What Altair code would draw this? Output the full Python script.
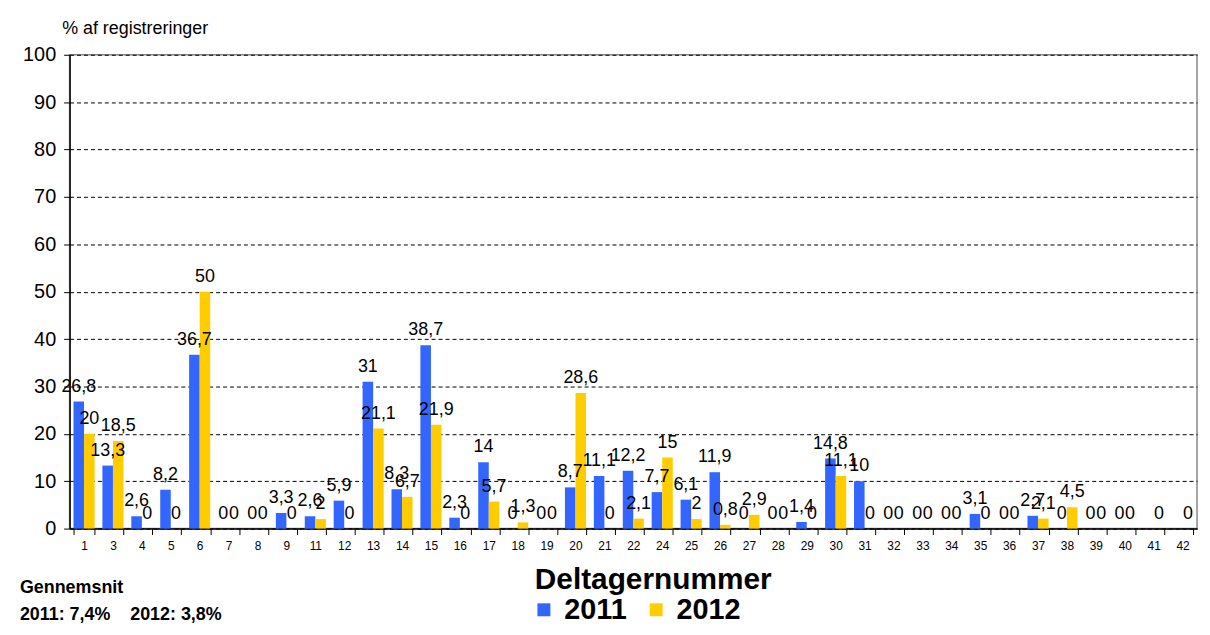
import altair as alt
import pandas as pd

CATS = ["1", "3", "4", "5", "6", "7", "8", "9", "11", "12", "13", "14", "15", "16",
        "17", "18", "19", "20", "21", "22", "24", "25", "26", "27", "28", "29", "30",
        "31", "32", "33", "34", "35", "36", "37", "38", "39", "40", "41", "42"]
V2011 = [26.8, 13.3, 2.6, 8.2, 36.7, 0, 0, 3.3, 2.6, 5.9, 31, 8.3, 38.7, 2.3,
         14, 0, 0, 8.7, 11.1, 12.2, 7.7, 6.1, 11.9, 0, 0, 1.4, 14.8,
         10, 0, 0, 0, 3.1, 0, 2.7, 0, 0, 0, None, None]
V2012 = [20, 18.5, 0, 0, 50, 0, 0, 0, 2, 0, 21.1, 6.7, 21.9, 0,
         5.7, 1.3, 0, 28.6, 0, 2.1, 15, 2, 0.8, 2.9, 0, 0, 11.1,
         0, 0, 0, 0, 0, 0, 2.1, 4.5, 0, 0, 0, 0]
YEARS = ["2011", "2012"]
COLORS = ["#3366FF", "#FFCC00"]
NOTE = ["Gennemsnit", "2011: 7,4%\u00a0\u00a0\u00a0 2012: 3,8%"]

rows = []
for c, a, b in zip(CATS, V2011, V2012):
    for yr, v in ((YEARS[0], a), (YEARS[1], b)):
        if v is None:
            continue
        rows.append({"cat": c, "year": yr, "value": v,
                     "label": f"{v:g}".replace(".", ",")})
df = pd.DataFrame(rows)

W, H = 1135, 477
FONT = "Liberation Sans"

x = alt.X("cat:N", sort=CATS,
          scale=alt.Scale(paddingInner=0.27, paddingOuter=0.135),
          axis=alt.Axis(title="Deltagernummer", labelAngle=0, labelFontSize=12,
                        labelColor="black", labelPadding=6, tickBand="extent",
                        tickSize=6, tickColor="black", domainColor="black",
                        domainWidth=1.5, titleFontSize=30, titleFontWeight="bold",
                        titleColor="black", titleX=587, titleY=60,
                        titleBaseline="alphabetic"))
xo = alt.XOffset("year:N", sort=YEARS)
y = alt.Y("value:Q", scale=alt.Scale(domain=[0, 100]),
          axis=alt.Axis(values=list(range(0, 101, 10)), title="% af registreringer",
                        titleAngle=0, titleAlign="left", titleX=-8, titleY=-26,
                        titleBaseline="middle", titleFontSize=18,
                        titleFontWeight="normal", titleColor="black",
                        labelFontSize=20, labelColor="black", labelPadding=8,
                        tickSize=6, tickColor="black", domainColor="black",
                        domainWidth=1.5, grid=True, gridDash=[4, 3],
                        gridColor="black", gridWidth=1))

base = alt.Chart(df)
bars = base.mark_bar().encode(
    x=x, xOffset=xo, y=y,
    color=alt.Color("year:N", sort=YEARS,
                    scale=alt.Scale(domain=YEARS, range=COLORS),
                    legend=alt.Legend(orient="none", legendX=463, legendY=544,
                                      direction="horizontal", title=None,
                                      symbolType="square", symbolSize=170,
                                      symbolStrokeWidth=0, labelFontSize=29,
                                      labelFontWeight="bold", labelColor="black",
                                      columnPadding=15, labelOffset=6, padding=0)))
labels = base.mark_text(baseline="alphabetic", dy=-10, fontSize=18,
                        color="black").encode(x=x, xOffset=xo, y=y, text="label:N")

note = alt.Chart(pd.DataFrame({"t": ["\n".join(NOTE)]})).mark_text(
    align="left", baseline="middle", lineBreak="\n", lineHeight=27,
    fontSize=18, fontWeight="bold", color="black"
).encode(text="t:N", x=alt.value(-50), y=alt.value(537))

chart = alt.layer(bars, labels, note).properties(
    width=W, height=H,
    autosize=alt.AutoSizeParams(type="none"),
    padding={"left": 62, "top": 45, "right": 5, "bottom": 98},
).configure(font=FONT).configure_view(stroke="#888888", strokeWidth=1.5)

chart.save("out.html", embed_options={"renderer": "svg", "actions": False})
